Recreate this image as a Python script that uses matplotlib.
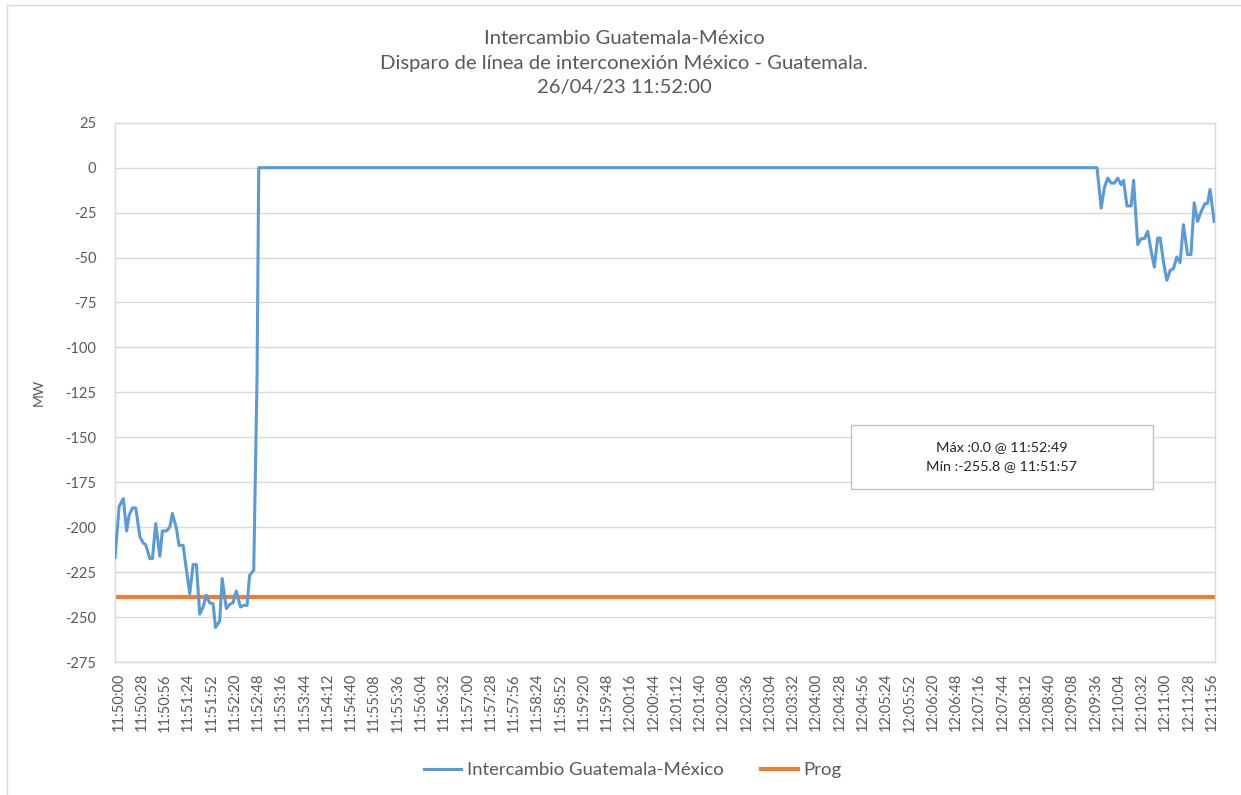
import matplotlib.pyplot as plt
import numpy as np
from matplotlib.patches import Rectangle
from matplotlib.lines import Line2D

plt.rcParams['font.family'] = ['Lato', 'DejaVu Sans']
plt.rcParams['axes.unicode_minus'] = False

# seconds after 11:50:00, values in MW
t_mw = [-4, 1, 6, 10, 13, 17, 21, 26, 30, 33, 38, 41, 45, 50, 53, 58, 62, 65,
        70, 73, 78, 82, 86, 90, 94, 98, 102, 106, 110, 114, 117, 122, 125, 130,
        134, 138, 142, 147, 151, 155, 158, 163, 167, 169,
        1178, 1183, 1187, 1191, 1195, 1199, 1203, 1207, 1210, 1214, 1219, 1222,
        1227, 1231, 1235, 1239, 1243, 1247, 1251, 1254, 1258, 1262, 1266, 1270,
        1274, 1278, 1282, 1287, 1291, 1295, 1299, 1303, 1308, 1311, 1314, 1319]
mw = [-216.9, -188.4, -184.1, -202.1, -193.4, -189.3, -189.3, -205.4, -208.8,
      -209.9, -217.5, -217.5, -198.0, -216.2, -202.1, -202.1, -199.9, -192.4,
      -200.8, -210.1, -210.1, -224.0, -237.0, -220.8, -220.8, -248.4, -244.4,
      -237.9, -242.1, -242.5, -255.8, -252.2, -228.6, -245.3, -243.0, -242.0,
      -235.5, -244.4, -243.5, -243.5, -226.8, -224.0, -115.0, 0.0,
      0.0, -22.5, -10.8, -5.8, -8.6, -8.6, -5.8, -9.5, -7.1, -21.3, -21.3, -7.1,
      -42.8, -39.5, -39.5, -35.4, -46.0, -55.3, -39.1, -39.1, -52.5, -62.7,
      -57.1, -56.2, -49.7, -52.8, -31.7, -48.4, -48.4, -19.5, -29.9, -24.7,
      -20.0, -20.0, -12.1, -29.9]
prog = -239.0
t_span = [-4, 1320]

tick_step = 28
tick_t = np.arange(0, 1317, tick_step)
tick_lbl = ["%02d:%02d:%02d" % ((11 * 3600 + 50 * 60 + s) // 3600,
                                ((11 * 3600 + 50 * 60 + s) % 3600) // 60,
                                (11 * 3600 + 50 * 60 + s) % 60) for s in tick_t]

gray = '#595959'
grid_c = '#D9D9D9'
blue = '#5B9BD5'
orange = '#ED7D31'

fig = plt.figure(figsize=(12.41, 7.95), dpi=100)
ax = fig.add_axes([115 / 1241, 1 - 662 / 795, 1100 / 1241, (662 - 122.7) / 795])

ax.plot(t_mw, mw, color=blue, lw=2.2, label='Intercambio Guatemala-México', zorder=3)
ax.plot(t_span, [prog, prog], color=orange, lw=3.0, label='Prog', zorder=2)

ax.set_xlim(t_span)
ax.set_ylim(-275, 25)
ax.set_yticks(np.arange(-275, 26, 25))
ax.set_xticks(tick_t)
ax.set_xticklabels(tick_lbl, rotation=90)
ax.tick_params(length=0, labelsize=10.5, colors=gray, pad=8)
ax.tick_params(axis='y', pad=13.5)
ax.grid(axis='y', color=grid_c, lw=1)
ax.set_axisbelow(True)
for s in ax.spines.values():
    s.set_color(grid_c)
    s.set_linewidth(1)
ax.set_ylabel('MW', fontsize=10, color=gray, labelpad=15)

fig.text(0.503, 1 - 38 / 795, 'Intercambio Guatemala-México', ha='center', va='center',
         fontsize=14.6, color=gray)
fig.text(0.503, 1 - 64 / 795, 'Disparo de línea de interconexión México - Guatemala.',
         ha='center', va='center', fontsize=14.6, color=gray)
fig.text(0.503, 1 - 88 / 795, '26/04/23 11:52:00', ha='center', va='center',
         fontsize=14.6, color=gray)

# max / min box
box = Rectangle((851 / 1241, 1 - 489 / 795), 302 / 1241, 64 / 795,
                transform=fig.transFigure, facecolor='white', edgecolor='#BFBFBF',
                lw=1, zorder=5)
fig.add_artist(box)
fig.text(1002 / 1241, 1 - 447 / 795, 'Máx :0.0 @ 11:52:49', ha='center', va='center',
         fontsize=10.4, color='#262626', zorder=6)
fig.text(1002 / 1241, 1 - 466 / 795, 'Mín :-255.8 @ 11:51:57', ha='center', va='center',
         fontsize=10.4, color='#262626', zorder=6)

# chart border (top / left)
fig.add_artist(Line2D([6.5 / 1241, 6.5 / 1241], [0, 1 - 5 / 795], transform=fig.transFigure,
                      color=grid_c, lw=1))
fig.add_artist(Line2D([6.5 / 1241, 1], [1 - 5 / 795, 1 - 5 / 795], transform=fig.transFigure,
                      color=grid_c, lw=1))

leg = fig.legend(loc='center', bbox_to_anchor=(0.51, 1 - 770 / 795), ncol=2, frameon=False,
                 fontsize=13.3, handlelength=2.0, columnspacing=2.0, handletextpad=0.3)
for txt in leg.get_texts():
    txt.set_color(gray)

fig.savefig('out.png', dpi=100)
